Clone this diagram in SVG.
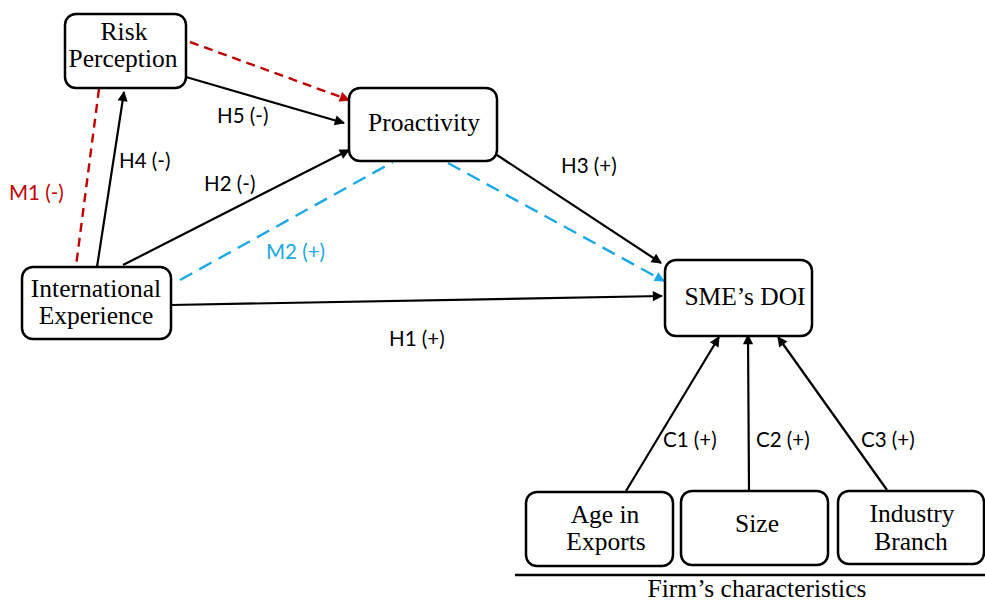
<svg xmlns="http://www.w3.org/2000/svg" width="985" height="605" viewBox="0 0 985 605">
<style>
.box{fill:#fff;stroke:#000;stroke-width:2.5}
.nt{font-family:"Liberation Serif",serif;font-size:25.5px;text-anchor:middle;fill:#000}
.lb{font-family:Lato,"Open Sans",sans-serif;font-size:20.5px;fill:#000}
.ln{fill:none;stroke:#000;stroke-width:2.2}
.red{fill:none;stroke:#C00000;stroke-width:2.4;stroke-dasharray:9 6}
.blue{fill:none;stroke:#1AA8E6;stroke-width:2.4;stroke-dasharray:14 8}
</style>
<defs>
<marker id="ab" viewBox="0 0 10 10" refX="9" refY="5" markerWidth="6" markerHeight="6" orient="auto" markerUnits="userSpaceOnUse" overflow="visible"><path d="M0,0 L10,5 L0,10 z" fill="#000" transform="scale(1.7) translate(-3.7,-2.06)"/></marker>
<marker id="ar" viewBox="0 0 10 10" refX="9" refY="5" markerWidth="6" markerHeight="6" orient="auto" markerUnits="userSpaceOnUse" overflow="visible"><path d="M0,0 L10,5 L0,10 z" fill="#C00000" transform="scale(1.7) translate(-3.7,-2.06)"/></marker>
<marker id="au" viewBox="0 0 10 10" refX="9" refY="5" markerWidth="6" markerHeight="6" orient="auto" markerUnits="userSpaceOnUse" overflow="visible"><path d="M0,0 L10,5 L0,10 z" fill="#1AA8E6" transform="scale(1.7) translate(-3.7,-2.06)"/></marker>
</defs>
<g id="connectors">
<line class="ln" x1="186" y1="77" x2="344" y2="123" marker-end="url(#ab)"/>
<line class="red" x1="190" y1="42" x2="349" y2="100" marker-end="url(#ar)"/>
<line class="red" x1="99" y1="89" x2="76" y2="266"/>
<line class="ln" x1="97" y1="267" x2="124" y2="92" marker-end="url(#ab)"/>
<line class="ln" x1="123" y1="265" x2="349" y2="150" marker-end="url(#ab)"/>
<line class="blue" x1="180" y1="280" x2="393" y2="162"/>
<line class="blue" x1="448" y1="163" x2="664" y2="281" marker-end="url(#au)"/>
<line class="ln" x1="497" y1="155" x2="661" y2="263" marker-end="url(#ab)"/>
<line class="ln" x1="171" y1="305" x2="662" y2="296" marker-end="url(#ab)"/>
<line class="ln" x1="626" y1="491" x2="719" y2="337" marker-end="url(#ab)"/>
<line class="ln" x1="749" y1="490" x2="748" y2="335" marker-end="url(#ab)"/>
<line class="ln" x1="887" y1="490" x2="778" y2="337" marker-end="url(#ab)"/>
<text class="lb" x="217" y="123">H5 (-)</text>
<text class="lb" x="119" y="168">H4 (-)</text>
<text class="lb" x="204" y="191">H2 (-)</text>
<text class="lb" x="9" y="200" style="fill:#C00000">M1 (-)</text>
<text class="lb" x="266" y="259" style="fill:#1AA8E6">M2 (+)</text>
<text class="lb" x="561" y="173">H3 (+)</text>
<text class="lb" x="389" y="346">H1 (+)</text>
<text class="lb" x="663" y="447">C1 (+)</text>
<text class="lb" x="756" y="447">C2 (+)</text>
<text class="lb" x="861" y="447">C3 (+)</text>
</g>
<g id="risk">
<rect class="box" x="65" y="14" width="121" height="74" rx="11"/>
<text class="nt" x="124" y="40">Risk</text>
<text class="nt" x="123" y="67">Perception</text>
</g>
<g id="proactivity">
<rect class="box" x="349" y="88" width="148" height="73" rx="11"/>
<text class="nt" x="424" y="131">Proactivity</text>
</g>
<g id="intl">
<rect class="box" x="22" y="267" width="149" height="72" rx="11"/>
<text class="nt" x="96" y="297">International</text>
<text class="nt" x="96" y="324">Experience</text>
</g>
<g id="doi">
<rect class="box" x="665" y="260" width="147" height="76" rx="11"/>
<text class="nt" x="745" y="305">SME’s DOI</text>
</g>
<g id="age">
<rect class="box" x="526" y="492" width="147" height="74" rx="11"/>
<text class="nt" x="605" y="523">Age in</text>
<text class="nt" x="606" y="550">Exports</text>
</g>
<g id="size">
<rect class="box" x="681" y="491" width="147" height="74" rx="11"/>
<text class="nt" x="757" y="532">Size</text>
</g>
<g id="industry">
<rect class="box" x="838" y="491" width="146" height="73" rx="11"/>
<text class="nt" x="912" y="522">Industry</text>
<text class="nt" x="911" y="550">Branch</text>
</g>
<g id="firm">
<line x1="515" y1="575" x2="985" y2="575" stroke="#000" stroke-width="2.5"/>
<text class="nt" x="757" y="597">Firm’s characteristics</text>
</g>
</svg>
